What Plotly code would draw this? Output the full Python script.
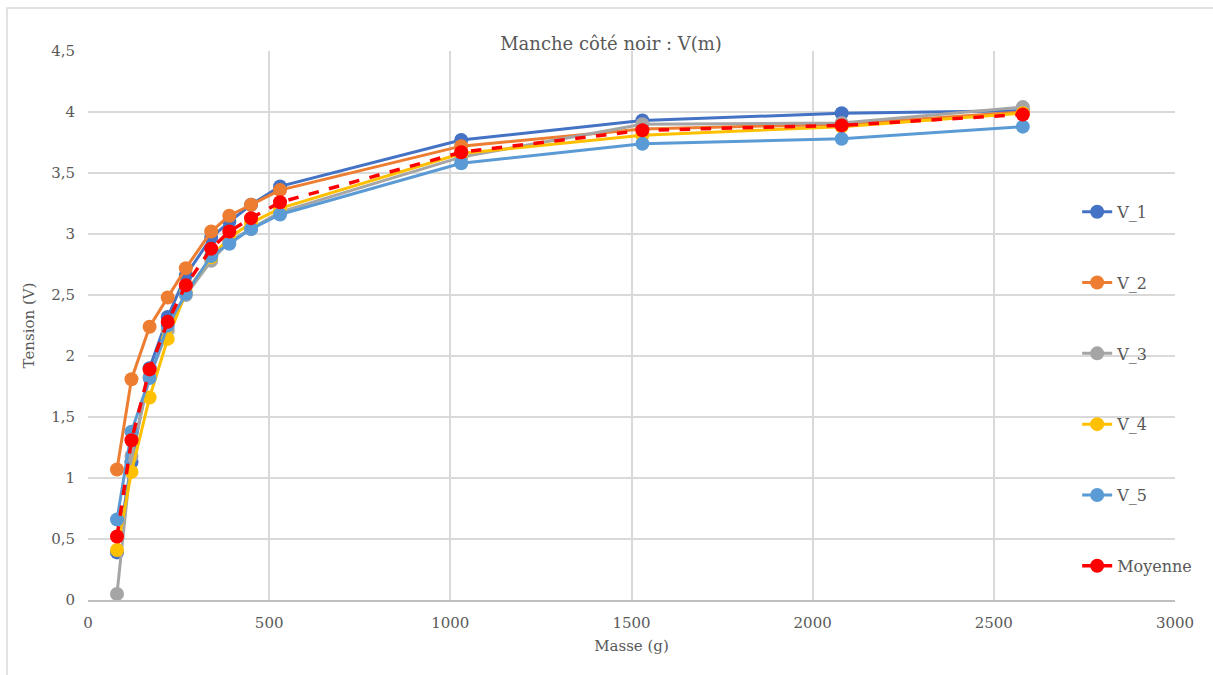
import plotly.graph_objects as go

# Masse appliquée (g)
masse = [80, 120, 170, 220, 270, 340, 390, 450, 530, 1030, 1530, 2080, 2580]

# Tension mesurée (V) pour chaque essai
v_1 = [0.39, 1.13, 1.90, 2.32, 2.66, 2.97, 3.10, 3.24, 3.39, 3.77, 3.93, 3.99, 4.01]
v_2 = [1.07, 1.81, 2.24, 2.48, 2.72, 3.02, 3.15, 3.24, 3.36, 3.72, 3.86, 3.90, 4.00]
v_3 = [0.05, 1.18, 1.83, 2.21, 2.50, 2.78, 2.94, 3.04, 3.18, 3.63, 3.90, 3.91, 4.04]
v_4 = [0.41, 1.05, 1.66, 2.14, 2.52, 2.81, 2.97, 3.09, 3.21, 3.66, 3.81, 3.88, 3.99]
v_5 = [0.66, 1.38, 1.82, 2.25, 2.51, 2.82, 2.92, 3.04, 3.16, 3.58, 3.74, 3.78, 3.88]
moyenne = [0.52, 1.31, 1.89, 2.28, 2.58, 2.88, 3.02, 3.13, 3.26, 3.67, 3.85, 3.89, 3.98]

series = [
    ("V_1", v_1, "#4472C4"),
    ("V_2", v_2, "#ED7D31"),
    ("V_3", v_3, "#A5A5A5"),
    ("V_4", v_4, "#FFC000"),
    ("V_5", v_5, "#5B9BD5"),
]

FONT = "DejaVu Serif"
TXT = "#595959"

fig = go.Figure()
for name, vals, color in series:
    fig.add_trace(go.Scatter(
        x=masse, y=vals, name=name, mode="lines+markers",
        line=dict(color=color, width=3),
        marker=dict(color=color, size=14, symbol="circle"),
        legendgroup=name,
    ))

fig.add_trace(go.Scatter(
    x=masse, y=moyenne, name="Moyenne", mode="lines+markers",
    line=dict(color="#FF0000", width=3.5, dash="dash"),
    marker=dict(color="#FF0000", size=14, symbol="circle"),
    legendgroup="Moyenne",
))

fig.update_layout(
    width=1213, height=675,
    margin=dict(l=88, r=38, t=51, b=75),
    paper_bgcolor="white", plot_bgcolor="white",
    separators=", ",
    font=dict(family=FONT, size=15, color=TXT),
    title=dict(
        text="Manche côté noir : V(m)",
        x=611 / 1213, xref="container", xanchor="center",
        y=1 - 44 / 675, yref="container", yanchor="middle",
        font=dict(family=FONT, size=18, color=TXT),
    ),
    legend=dict(
        x=0.910, xanchor="left", y=0.738, yanchor="top",
        bgcolor="rgba(0,0,0,0)",
        font=dict(family=FONT, size=16, color=TXT),
        tracegroupgap=47,
    ),
    showlegend=True,
)

fig.update_xaxes(
    range=[0, 3000], dtick=500, tick0=0,
    showgrid=True, gridcolor="#D9D9D9", gridwidth=1.5,
    zeroline=False,
    showline=True, linecolor="#BFBFBF", linewidth=1.5,
    ticks="", ticklabelstandoff=8,
    tickfont=dict(family=FONT, size=15, color=TXT),
    title=dict(text="Masse (g)", font=dict(family=FONT, size=15, color=TXT), standoff=10),
)
fig.update_yaxes(
    range=[0, 4.5], dtick=0.5, tick0=0,
    showgrid=True, gridcolor="#D9D9D9", gridwidth=1.5,
    zeroline=False, showline=False,
    ticks="", ticklabelstandoff=12,
    tickfont=dict(family=FONT, size=15, color=TXT),
    title=dict(text="Tension (V)", font=dict(family=FONT, size=15, color=TXT), standoff=12),
)

# Cadre extérieur du graphique
fig.add_shape(
    type="rect", xref="paper", yref="paper",
    x0=(7 - 88) / 1087, x1=(1230 - 88) / 1087,
    y0=(600 - 690) / 549, y1=(600 - 8) / 549,
    line=dict(color="#D9D9D9", width=1.5), fillcolor="rgba(0,0,0,0)",
    layer="below",
)

fig.write_html("out.html")
